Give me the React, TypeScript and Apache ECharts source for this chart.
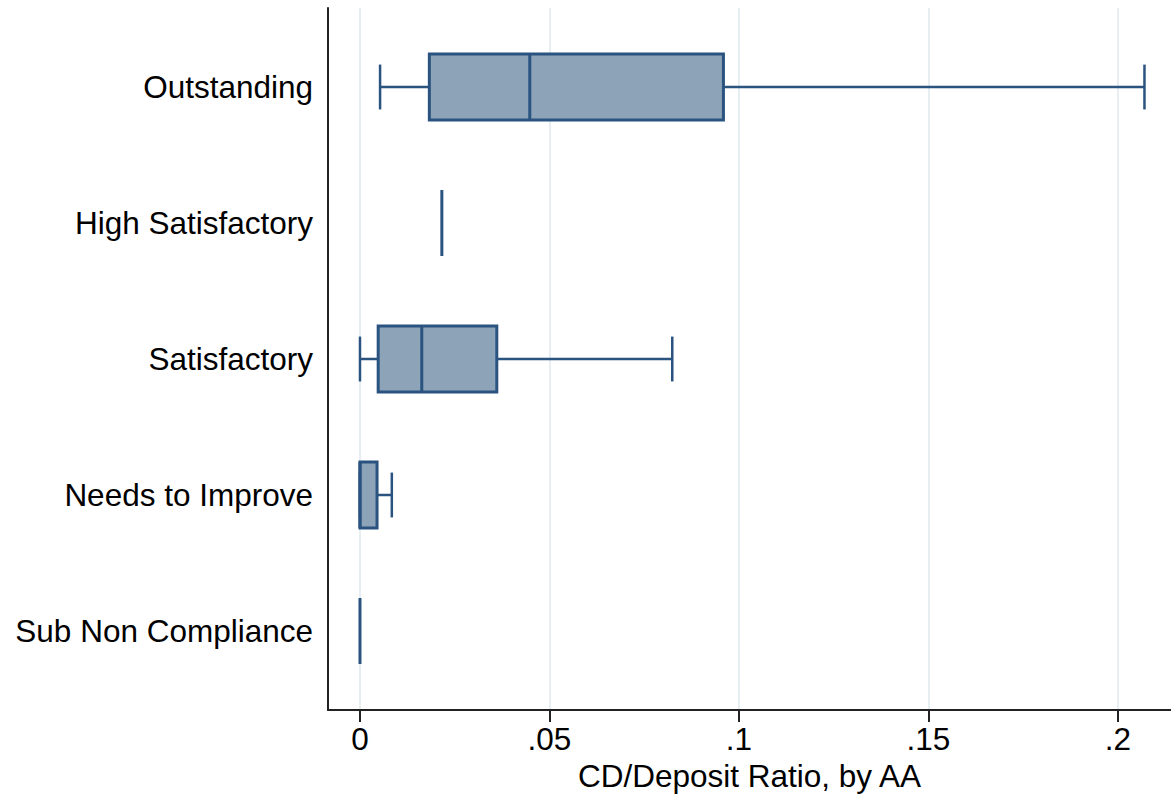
import React, { useEffect, useRef } from "react";
import * as echarts from "echarts";

const categories = ["Outstanding", "High Satisfactory", "Satisfactory", "Needs to Improve", "Sub Non Compliance"];
const lowerWhisker = [0.0053, 0.0216, 0, 0, 0];
const q1Values = [0.0183, 0.0216, 0.0048, 0, 0];
const medianValues = [0.0448, 0.0216, 0.0163, 0, 0];
const q3Values = [0.0959, 0.0216, 0.0361, 0.0045, 0];
const upperWhisker = [0.207, 0.0216, 0.0824, 0.0084, 0];
const xTicks = [0, 0.05, 0.1, 0.15, 0.2];
const xTickLabels = ["0", ".05", ".1", ".15", ".2"];

const STROKE = "#2a5380";
const FILL = "#8ca3b8";
const FONT = "'Liberation Sans', Arial, Helvetica, sans-serif";
const FS = 31.5;

export default function App() {
  const ref = useRef<HTMLDivElement>(null);
  useEffect(() => {
    if (!ref.current) return;
    const chart = echarts.init(ref.current, null, { renderer: "svg" });
    const data = categories.map((_, i) => [
      i + 1,
      lowerWhisker[i],
      q1Values[i],
      medianValues[i],
      q3Values[i],
      upperWhisker[i],
    ]);
    const option: any = {
      animation: false,
      backgroundColor: "#ffffff",
      grid: { left: 328, right: 0, top: 8, bottom: 88 },
      xAxis: {
        type: "value",
        min: -0.00844,
        max: 0.214,
        name: "CD/Deposit Ratio, by AA",
        nameLocation: "middle",
        nameGap: 46,
        nameTextStyle: { color: "#000", fontSize: FS, fontFamily: FONT },
        axisLine: { show: true, onZero: false, lineStyle: { color: "#222", width: 2 } },
        axisTick: { show: true, length: 12, customValues: xTicks, lineStyle: { color: "#222", width: 2 } },
        axisLabel: {
          show: true,
          customValues: xTicks,
          margin: 13,
          color: "#000",
          fontSize: FS,
          fontFamily: FONT,
          formatter: (v: number) => {
            const idx = xTicks.findIndex((t) => Math.abs(t - v) < 1e-9);
            return idx >= 0 ? xTickLabels[idx] : "";
          },
        },
        splitLine: { show: true, lineStyle: { color: "#e6eef1", width: 2 } },
      },
      yAxis: {
        type: "value",
        inverse: true,
        min: 0.419,
        max: 5.581,
        axisLine: { show: true, onZero: false, lineStyle: { color: "#222", width: 2 } },
        axisTick: { show: false },
        splitLine: { show: false },
        axisLabel: {
          show: true,
          customValues: [1, 2, 3, 4, 5],
          margin: 15,
          color: "#000",
          fontSize: FS,
          fontFamily: FONT,
          formatter: (v: number) => categories[Math.round(v) - 1] ?? "",
        },
      },
      series: [
        {
          type: "custom",
          clip: false,
          encode: { x: [1, 2, 3, 4, 5], y: 0 },
          data,
          renderItem: (_params: any, api: any) => {
            const y = api.value(0);
            const lo = api.value(1);
            const q1 = api.value(2);
            const med = api.value(3);
            const q3 = api.value(4);
            const hi = api.value(5);
            const boxH = 0.485;
            const capH = 0.33;
            const [xLo, yc] = api.coord([lo, y]);
            const xQ1 = api.coord([q1, y])[0];
            const xMed = api.coord([med, y])[0];
            const xQ3 = api.coord([q3, y])[0];
            const xHi = api.coord([hi, y])[0];
            const bTop = api.coord([q1, y - boxH / 2])[1];
            const bBot = api.coord([q1, y + boxH / 2])[1];
            const cTop = api.coord([q1, y - capH / 2])[1];
            const cBot = api.coord([q1, y + capH / 2])[1];
            const lineStyle = { stroke: STROKE, lineWidth: 2.5, fill: null };
            const children: any[] = [];
            if (xQ1 > xLo) {
              children.push({ type: "line", shape: { x1: xLo, y1: yc, x2: xQ1, y2: yc }, style: lineStyle });
            }
            if (xHi > xQ3) {
              children.push({ type: "line", shape: { x1: xQ3, y1: yc, x2: xHi, y2: yc }, style: lineStyle });
            }
            if (hi > q3 || lo < q1) {
              children.push({ type: "line", shape: { x1: xLo, y1: cTop, x2: xLo, y2: cBot }, style: lineStyle });
              children.push({ type: "line", shape: { x1: xHi, y1: cTop, x2: xHi, y2: cBot }, style: lineStyle });
            }
            if (xQ3 > xQ1) {
              children.push({
                type: "rect",
                shape: { x: xQ1, y: Math.min(bTop, bBot), width: xQ3 - xQ1, height: Math.abs(bBot - bTop) },
                style: { fill: FILL, stroke: STROKE, lineWidth: 3 },
              });
            }
            children.push({ type: "line", shape: { x1: xMed, y1: bTop, x2: xMed, y2: bBot }, style: { stroke: STROKE, lineWidth: 3 } });
            return { type: "group", children };
          },
        },
      ],
    };
    chart.setOption(option);
    return () => chart.dispose();
  }, []);
  return (
    <div
      ref={ref}
      style={{ position: "fixed", left: 0, top: 0, width: 1171, height: 798, background: "#fff" }}
    />
  );
}
